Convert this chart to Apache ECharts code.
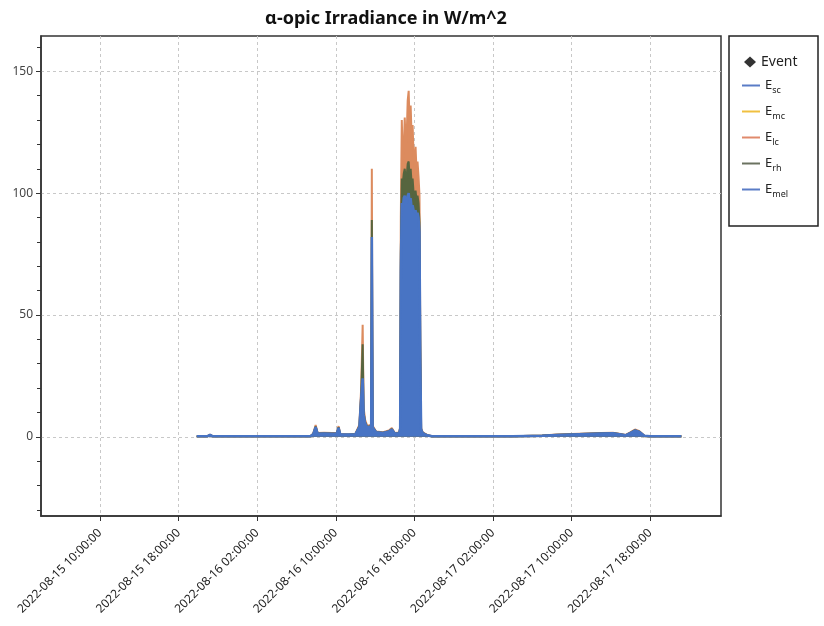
<!DOCTYPE html>
<html><head><meta charset="utf-8">
<script src="https://cdn.jsdelivr.net/npm/echarts@6/dist/echarts.min.js"></script>
<style>html,body{margin:0;padding:0;background:#fff}#c{width:824px;height:626px}</style>
</head><body><div id="c"></div>
<script>
// ---------- data ----------
const times = [
 '2022-08-15 19:51','2022-08-15 20:54','2022-08-15 21:12','2022-08-15 21:30','2022-08-16 02:00',
 '2022-08-16 07:24','2022-08-16 07:42','2022-08-16 07:57','2022-08-16 08:09','2022-08-16 08:48',
 '2022-08-16 09:36','2022-08-16 10:06','2022-08-16 10:17','2022-08-16 10:27','2022-08-16 11:18',
 '2022-08-16 12:00','2022-08-16 12:24','2022-08-16 12:35','2022-08-16 12:44','2022-08-16 12:50',
 '2022-08-16 12:59','2022-08-16 13:12','2022-08-16 13:36','2022-08-16 13:40','2022-08-16 13:45',
 '2022-08-16 14:06','2022-08-16 14:48','2022-08-16 15:24','2022-08-16 15:42','2022-08-16 16:00',
 '2022-08-16 16:27','2022-08-16 16:33','2022-08-16 16:37','2022-08-16 16:43','2022-08-16 16:49',
 '2022-08-16 16:55','2022-08-16 17:01','2022-08-16 17:07','2022-08-16 17:13','2022-08-16 17:19',
 '2022-08-16 17:25','2022-08-16 17:31','2022-08-16 17:37','2022-08-16 17:43','2022-08-16 17:49',
 '2022-08-16 17:55','2022-08-16 18:01','2022-08-16 18:07','2022-08-16 18:13','2022-08-16 18:19',
 '2022-08-16 18:25','2022-08-16 18:31','2022-08-16 18:36','2022-08-16 18:41','2022-08-16 18:51',
 '2022-08-16 19:18','2022-08-16 19:48','2022-08-17 04:00','2022-08-17 07:00','2022-08-17 08:30',
 '2022-08-17 10:00','2022-08-17 11:30','2022-08-17 13:00','2022-08-17 14:12','2022-08-17 15:00',
 '2022-08-17 15:30','2022-08-17 16:00','2022-08-17 16:27','2022-08-17 16:54','2022-08-17 17:24',
 '2022-08-17 18:00','2022-08-17 21:10'
];
const Esc = [
 0.1,0.1,0.5,0.1,0.1, 0.1,0.6,2.6,0.8,0.9, 0.8,0.9,2.4,0.6,0.5,
 0.7,2.5,9,14,5, 3.5,2.5,3,48,2.5, 1.2,1.0,1.4,2.0,0.9,
 1.0,2,40,58,56, 59,60,57,58,61, 62,58,60,56,58, 54,53,55,52,53,
 50,48,20,2,1.0, 0.4,0.1,0.1,0.3,0.5, 0.6,0.7,0.8,0.9,0.6,
 0.4,1.0,1.6,1.2,0.2, 0.1,0.1
];
const Emc = [
 0.1,0.1,0.6,0.1,0.1, 0.1,0.7,3.0,0.9,1.0, 0.9,1.0,2.8,0.7,0.6,
 0.8,3,11,17,6, 4,3,3.5,60,3, 1.4,1.2,1.6,2.3,1.0,
 1.1,2.5,52,78,75, 80,82,78,80,84, 86,80,82,76,79, 73,71,74,70,71,
 68,64,26,2.3,1.1, 0.5,0.1,0.1,0.3,0.6, 0.7,0.8,0.9,1.0,0.7,
 0.5,1.2,1.9,1.4,0.2, 0.1,0.1
];
const Elc = [
 0.2,0.2,0.9,0.2,0.2, 0.2,1.2,4.8,1.6,1.7, 1.6,1.7,4.4,1.2,1.0,
 1.3,5,20,46,12, 7,4.5,5,110,4.5, 2.2,1.9,2.6,3.6,1.6,
 1.8,4,90,130,113, 118,131,119,124,138, 142,127,136,123,128, 115,111,119,109,113,
 107,99,40,3.5,1.8, 0.8,0.2,0.2,0.5,0.9, 1.2,1.4,1.6,1.7,1.2,
 0.8,1.9,3.0,2.3,0.4, 0.2,0.2
];
const Erh = [
 0.2,0.2,0.8,0.2,0.2, 0.2,1.1,4.2,1.4,1.5, 1.4,1.5,3.9,1.0,0.9,
 1.2,4.3,17,38,10, 6,4,4.5,89,4, 2.0,1.7,2.3,3.2,1.4,
 1.6,3.5,75,106,104, 108,110,105,107,112, 113,106,110,104,106, 100,98,101,97,99,
 96,88,35,3.1,1.6, 0.7,0.2,0.2,0.5,0.8, 1.1,1.3,1.5,1.6,1.1,
 0.7,1.7,2.7,2.1,0.4, 0.2,0.2
];
const Emel = [
 0.2,0.2,0.8,0.2,0.2, 0.2,1.0,4.0,1.3,1.4, 1.3,1.4,3.7,1.0,0.9,
 1.1,4,16,24,9, 5.5,3.8,4.2,82,3.8, 1.9,1.6,2.2,3.0,1.4,
 1.5,3.3,68,96,94, 98,99,95,97,99, 100,96,98,94,95, 93,92,93,91,92,
 90,84,32,3,1.5, 0.6,0.2,0.2,0.4,0.7, 1.0,1.2,1.4,1.5,1.0,
 0.6,1.6,2.6,2.0,0.4, 0.2,0.2
];
const eventTimes = [];   // no event markers visible in the picture
const xTickLabels = ['2022-08-15 10:00:00','2022-08-15 18:00:00','2022-08-16 02:00:00','2022-08-16 10:00:00',
  '2022-08-16 18:00:00','2022-08-17 02:00:00','2022-08-17 10:00:00','2022-08-17 18:00:00'];
const yTickLabels = [0, 50, 100, 150];
const seriesNames = ['Esc','Emc','Elc','Erh','Emel'];
const seriesValues = [Esc, Emc, Elc, Erh, Emel];
const xStart = '2022-08-15 04:00:00', xEnd = '2022-08-18 01:12:00';
const yMin = -32.5, yMax = 164.5;

// ---------- helpers ----------
function toHours(s){
  const [d, tm] = s.split(' ');
  const [Y,M,D] = d.split('-').map(Number);
  const p = tm.split(':').map(Number);
  return (Date.UTC(Y,M-1,D,p[0],p[1],p[2]||0) - Date.UTC(2022,7,15)) / 3600000;
}
const hours = times.map(toHours);
const xTickHours = xTickLabels.map(toHours);
const minorY = []; for (let v = -30; v <= 160; v += 10) minorY.push(v);

const colors = {Esc:'#4a74c6', Emc:'#f2bd32', Elc:'#dc8b5e', Erh:'#56653f', Emel:'#4874c4'};
const legendColors = {Esc:'#5a7cc6', Emc:'#f0c040', Elc:'#e08a6c', Erh:'#6b7260', Emel:'#5a7cc6'};
const lineWidths = {Esc:2, Emc:2, Elc:2, Erh:2, Emel:2.5};

const series = [{
  name:'Event', type:'scatter', symbol:'diamond', symbolSize:10,
  itemStyle:{color:'#000'}, data: eventTimes.map(t => [toHours(t), 0])
}];
seriesNames.forEach((n, k) => {
  series.push({
    name:n, type:'line', showSymbol:false, symbol:'none', xAxisIndex:0, yAxisIndex:0,
    z: 3 + k,
    color: legendColors[n],
    lineStyle:{color:colors[n], width:lineWidths[n]},
    areaStyle:{color:colors[n], opacity:1, origin:0},
    data: hours.map((h,i) => [h, seriesValues[k][i]])
  });
});

const legendCY = [62, 88, 114, 140, 166, 192];
const legends = [{
  left:744, top:legendCY[0]-9, orient:'vertical', selectedMode:false, padding:0,
  data:[{name:'Event', icon:'diamond'}], itemWidth:12, itemHeight:11, itemGap:0,
  textStyle:{fontSize:14, color:'#222', fontFamily:'Noto Sans', lineHeight:18}
}];
seriesNames.forEach((n, k) => {
  legends.push({
    left:742, top:legendCY[k+1]-9, orient:'vertical', selectedMode:false, padding:0,
    data:[{name:n, icon:'rect', itemStyle:{color:legendColors[n]}}], itemWidth:18, itemHeight:2, itemGap:0,
    formatter: nm => '{b|E}{s|' + nm.slice(1) + '}',
    textStyle:{color:'#222', fontFamily:'Noto Sans',
      rich:{ b:{fontSize:13, lineHeight:18, verticalAlign:'middle', color:'#222', fontFamily:'Noto Sans'},
             s:{fontSize:9, lineHeight:18, verticalAlign:'bottom', color:'#222', fontFamily:'Noto Sans'} }}
  });
});

const chart = echarts.init(document.getElementById('c'), null, {renderer:'canvas'});
chart.setOption({
  animation:false,
  backgroundColor:'#fff',
  title:{text:'α-opic Irradiance in W/m^2', left:381, top:5, textAlign:'center',
    textStyle:{fontSize:18, fontWeight:'bold', color:'#111', fontFamily:'Noto Sans'}},
  grid:{left:41, top:36, width:680, height:480, show:true, borderColor:'#333', borderWidth:1.5, backgroundColor:'transparent'},
  legend: legends,
  graphic:[{type:'rect', shape:{x:729, y:36, width:89, height:190}, style:{fill:'none', stroke:'#222', lineWidth:1.5}, z:100}],
  xAxis:{type:'value', min:toHours(xStart), max:toHours(xEnd),
    axisLine:{show:true, onZero:false, lineStyle:{color:'#333', width:1.5}},
    axisTick:{show:true, length:5, customValues:xTickHours, lineStyle:{color:'#333'}},
    axisLabel:{customValues:xTickHours, rotate:45, margin:15, fontSize:12, color:'#222', fontFamily:'Noto Sans',
      formatter: v => { const i = xTickHours.findIndex(h => Math.abs(h - v) < 1e-6); return i >= 0 ? xTickLabels[i] : ''; }},
    splitLine:{show:true, lineStyle:{type:[3,3], color:'#c8c8c8', width:1}}
  },
  yAxis:[
    {type:'value', min:yMin, max:yMax, position:'left',
      axisLine:{show:true, onZero:false, lineStyle:{color:'#333', width:1.5}},
      axisTick:{show:true, length:4, customValues:minorY, lineStyle:{color:'#333'}},
      axisLabel:{show:false}, splitLine:{show:false}},
    {type:'value', min:yMin, max:yMax, position:'left', offset:0,
      axisLine:{show:false},
      axisTick:{show:true, length:5, customValues:yTickLabels, lineStyle:{color:'#333'}},
      axisLabel:{customValues:yTickLabels, margin:8, fontSize:12, color:'#444', fontFamily:'Noto Sans'},
      splitLine:{show:true, lineStyle:{type:[3,3], color:'#c8c8c8', width:1}}}
  ],
  series: series
});
</script></body></html>
